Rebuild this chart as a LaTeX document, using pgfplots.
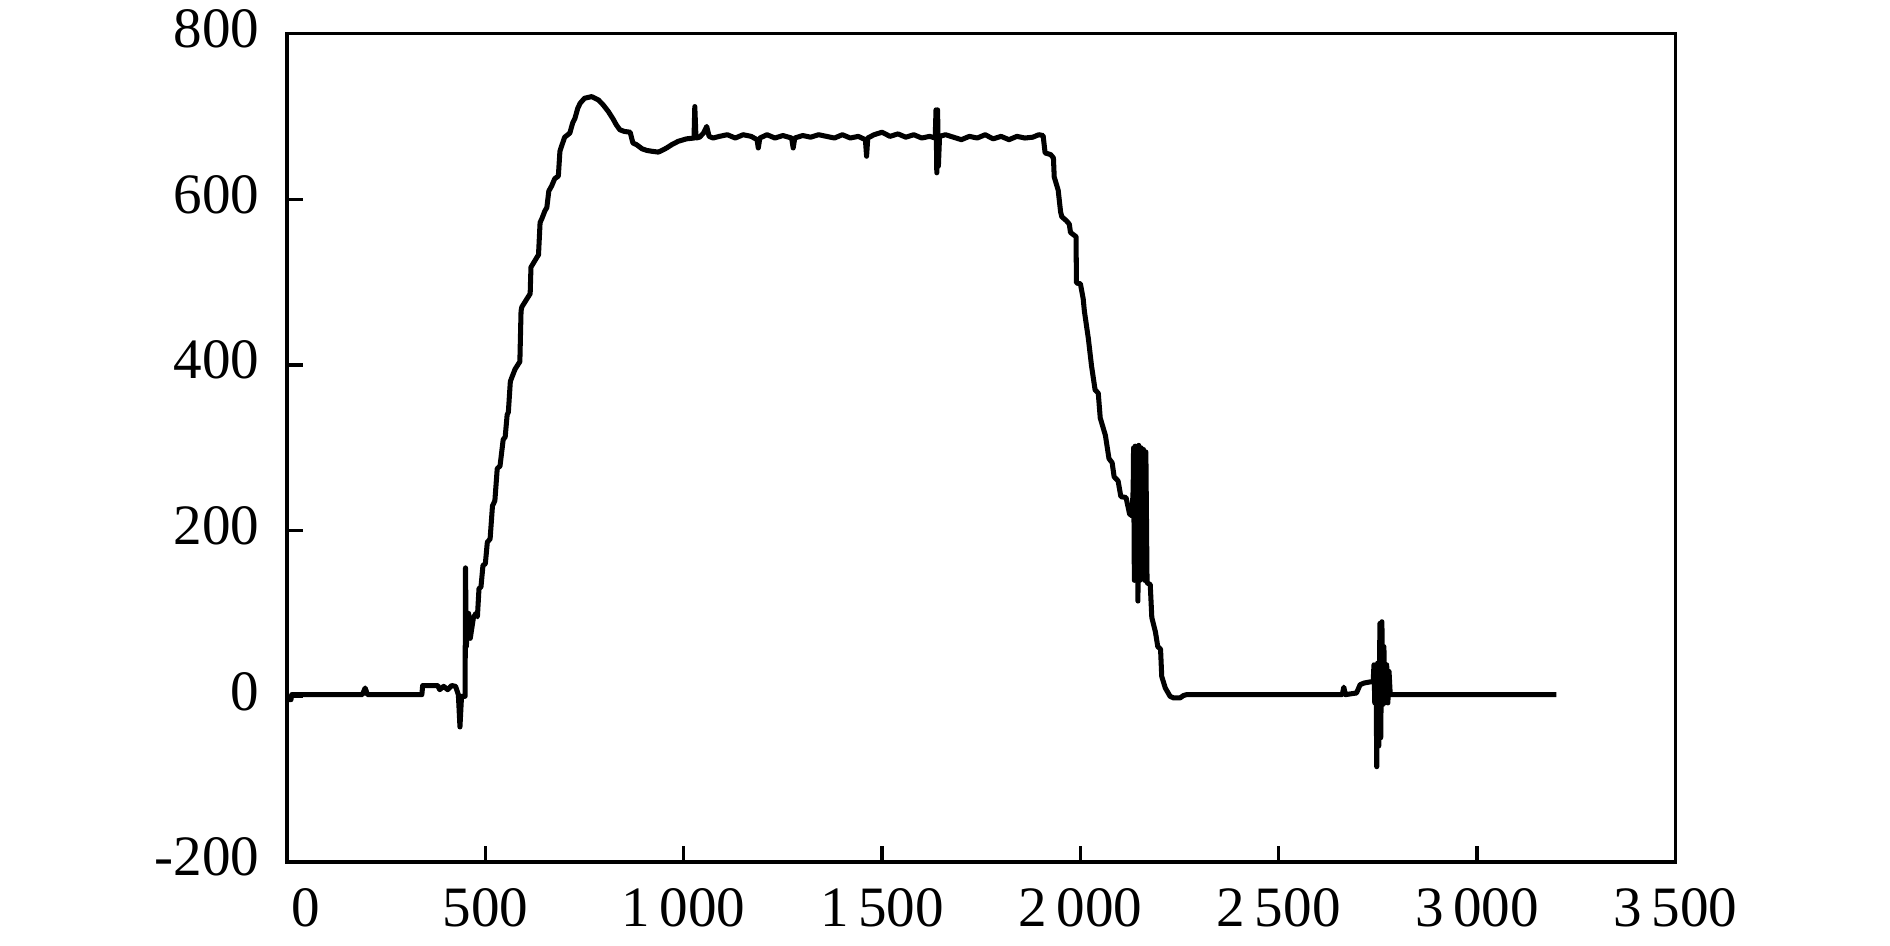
\documentclass[border=0pt]{standalone}
\usepackage{fontspec}
\setmainfont{Liberation Serif}
\usepackage{pgfplots}
\pgfplotsset{compat=1.18}
\begin{document}
\begin{tikzpicture}
\useasboundingbox (-59.79pt,-17.5pt) rectangle (333.96pt,179.58pt);
\begin{axis}[
  at={(0,0)}, anchor=south west,
  scale only axis,
  width=289.27pt, height=172.56pt,
  xmin=0, xmax=3500, ymin=-200, ymax=800,
  xtick={0,500,1000,1500,2000,2500,3000,3500},
  xticklabels={\hspace{8pt}0,500,1\,000,1\,500,2\,000,2\,500,3\,000,3\,500},
  ytick={-200,0,200,400,600,800},
  yticklabels={-200,0,200,400,600,800},
  tick pos=left, tick align=inside,
  major tick length=3.3pt,
  every tick/.style={black, line width=0.7pt},
  axis line style={line width=0.7pt},
  ticklabel style={font=\fontsize{11.9pt}{14pt}\selectfont, inner sep=0pt},
  xticklabel style={yshift=-5.4pt},
  yticklabel style={xshift=-5.6pt, yshift=1pt},
  clip=false,
]
\addplot[black, line width=1.05pt, line join=round] coordinates {
(0,-4) (10,-4) (12,2) (190,2) (197,10) (203,2) (340,2) (342,13) (380,13) (385,8) (395,12) (405,8) (415,13) (425,12) (432,2) (436,-37) (440,0) (449,0)
(450,155) (452,60) (458,100) (462,70) (470,95) (476,100) (480,96) (484,130) (489,132) (494,158) (500,160) (505,186) (512,190) (518,230) (524,236)
(530,275) (537,278) (545,310) (550,313) (555,340) (558,343) (563,380) (566,384) (575,395) (587,404) (590,465) (592,470) (605,480) (613,486)
(615,518) (620,522) (630,530) (634,533) (638,572) (642,576) (650,586) (655,590) (660,610) (667,616) (675,625) (684,628) (688,658) (692,664)
(700,675) (713,680) (720,692) (726,698) (733,710) (739,716) (750,722) (768,724) (785,720) (797,714) (810,706) (822,697) (830,690) (839,684)
(850,682) (865,681) (872,668) (881,666) (895,661) (907,659) (920,658) (936,657) (945,659) (957,662) (970,666) (986,670) (1000,672) (1007,673)
(1026,674) (1028,712) (1031,674) (1040,675) (1050,680) (1058,688) (1064,676) (1074,674)
(1090,676) (1110,678) (1130,674) (1150,678) (1170,676) (1185,672) (1188,662) (1192,674) (1210,678) (1230,674) (1250,677) (1272,674) (1276,662)
(1280,674) (1300,677) (1320,675) (1340,678) (1360,676) (1380,674) (1400,678) (1420,674) (1440,676) (1458,672) (1461,652) (1464,674) (1480,678)
(1500,681) (1520,676) (1540,679) (1560,675) (1580,678) (1600,674) (1620,676) (1634,674) (1636,708) (1638,632) (1640,708) (1642,640) (1645,676)
(1660,678) (1680,675) (1700,672) (1720,676) (1740,674) (1760,678) (1780,673) (1800,676) (1820,672) (1840,676) (1860,674) (1880,675) (1895,678)
(1906,677) (1911,656) (1925,654) (1932,650) (1934,627) (1944,611) (1950,585) (1953,579) (1965,574) (1972,570) (1975,560) (1986,556) (1989,555)
(1990,499) (2000,498) (2007,480) (2010,465) (2020,432) (2028,399) (2037,370) (2045,366) (2050,336) (2063,315) (2072,287) (2080,282) (2085,265)
(2095,260) (2102,241) (2115,240) (2124,220) (2130,218) (2133,250) (2134,300) (2136,140) (2138,302) (2140,145) (2142,300) (2145,115) (2147,303)
(2150,140) (2153,300) (2156,145) (2159,298) (2162,140) (2165,295) (2168,137) (2176,135) (2180,95) (2189,78) (2195,60) (2202,57) (2205,24)
(2214,10) (2226,0) (2235,-2) (2251,-2) (2260,1) (2268,2) (2660,2) (2664,11) (2668,2) (2696,4) (2705,14) (2715,16) (2726,17) (2738,18)
(2740,38) (2742,-8) (2745,38) (2747,-85) (2749,40) (2752,-60) (2755,88) (2757,-50) (2760,90) (2762,-10) (2765,60) (2768,-8) (2772,38)
(2775,-8) (2778,30) (2781,2) (2790,2) (3200,2)
};
\end{axis}
\end{tikzpicture}
\end{document}
